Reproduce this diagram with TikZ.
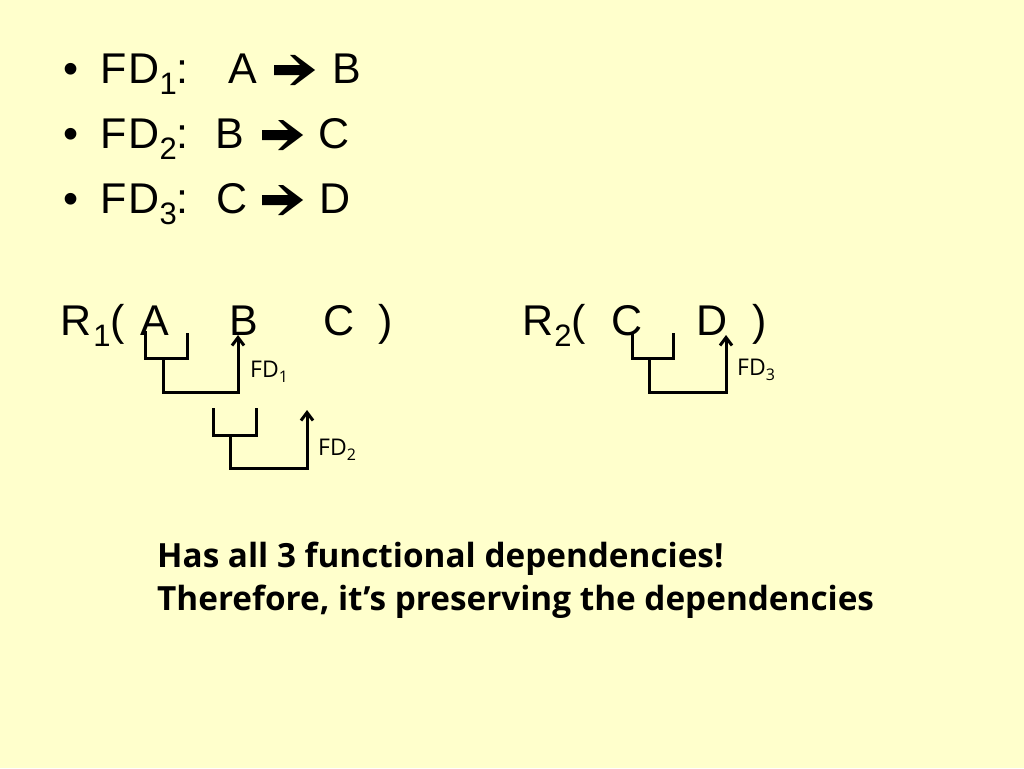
\documentclass[tikz,border=0pt]{standalone}
\usepackage{fontspec}
\setmainfont{Liberation Sans}
\newfontfamily\osf{Open Sans}
\usetikzlibrary{arrows.meta}
\definecolor{bg}{HTML}{FFFFCC}
\newcommand\msub[1]{\raisebox{-11pt}{\fontsize{31}{31}\selectfont #1}}
\newcommand\lsub[1]{\raisebox{-5pt}{\fontsize{16}{16}\selectfont #1}}
\begin{document}
\begin{tikzpicture}[x=1pt,y=-1pt,
  big/.style={anchor=base west,inner sep=0pt,font=\fontsize{43}{43}\selectfont},
  note/.style={anchor=base west,inner sep=0pt,font=\osf\fontsize{23}{23}\selectfont},
  msg/.style={anchor=base west,inner sep=0pt,font=\osf\bfseries\fontsize{33.3}{33.3}\selectfont},
  link/.style={line width=3pt},
  dep/.style={link,-{Straight Barb[length=8pt,width=12pt]}},
  fatarrow/.pic={\fill (0,-5) -- (26,-5) -- (16,-15) -- (21,-15) -- (41,0) -- (21,15) -- (16,15) -- (26,5) -- (0,5) -- cycle;}
]
\fill[bg] (0,0) rectangle (1024,768);
\useasboundingbox (0,0) rectangle (1024,768);
% bullet list
\foreach \i/\y in {1/83,2/148,3/213}{
  \node[big] (bul\i) at (63,\y) {•};
  \node[big] (fd\i) at (100,\y) {F\kern2pt D\msub{\i}:};
}
\node[big] (l1a) at (228,83) {A};
\pic at (274,70) {fatarrow};
\node[big] (l1b) at (332,83) {B};
\node[big] (l2a) at (215,148) {B};
\pic at (262,135) {fatarrow};
\node[big] (l2b) at (318,148) {C};
\node[big] (l3a) at (216,213) {C};
\pic at (262,200) {fatarrow};
\node[big] (l3b) at (319,213) {D};
% relations
\node[big] (r1) at (60,335) {R\kern2pt\msub{1}(};
\node[big] (r1a) at (140,335) {A};
\node[big] (r1b) at (229,335) {B};
\node[big] (r1c) at (323,335) {C};
\node[big] (r1e) at (378,335) {)};
\node[big] (r2) at (522,335) {R\kern1pt\msub{2}(};
\node[big] (r2c) at (611,335) {C};
\node[big] (r2d) at (696,335) {D};
\node[big] (r2e) at (752,335) {)};
% FD1
\coordinate (b1l) at (145,331); \coordinate (b1r) at (187,333);
\coordinate (s1) at (163,358); \coordinate (t1) at (238,335);
\draw[link] (b1l) |- (187,358) -- (b1r);
\draw[dep] (s1) -- ++(0,34) -| (t1);
\node[note] (n1) at (250,377) {FD\lsub{1}};
% FD2
\coordinate (b2l) at (213,408); \coordinate (b2r) at (256,408);
\coordinate (s2) at (230,435); \coordinate (t2) at (307,410);
\draw[link] (b2l) -- ++(0,27) -| (b2r);
\draw[dep] (s2) -- ++(0,33) -| (t2);
\node[note] (n2) at (318,455) {FD\lsub{2}};
% FD3
\coordinate (b3l) at (632,333); \coordinate (b3r) at (673,333);
\coordinate (s3) at (649,358); \coordinate (t3) at (726,335);
\draw[link] (b3l) -- ++(0,25) -| (b3r);
\draw[dep] (s3) -- ++(0,34) -| (t3);
\node[note] (n3) at (737,375) {FD\lsub{3}};
% message
\node[msg] (m1) at (157,567) {Has all 3 functional dependencies!};
\node[msg] (m2) at (157,610) {Therefore, it’s preserving the dependencies};
\end{tikzpicture}
\end{document}
